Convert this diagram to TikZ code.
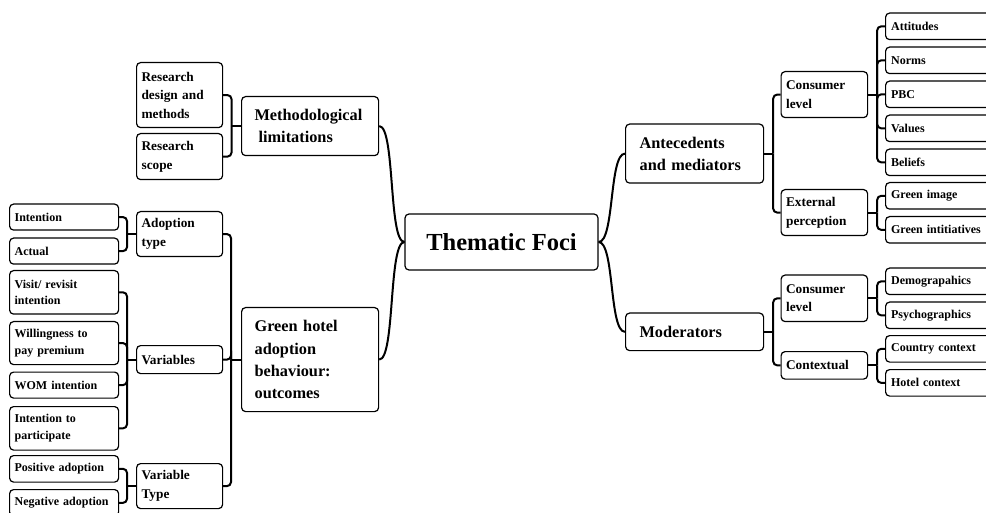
\documentclass[tikz,border=0pt]{standalone}
\usepackage{fontspec}
\setmainfont{Liberation Serif}
\usetikzlibrary{calc}
\tikzset{
  box/.style={draw, rounded corners=4pt, line width=1.2pt, inner ysep=0pt, align=left},
  leaf/.style={box, font=\fontsize{12}{16.7}\selectfont\bfseries},
  mid/.style={box, font=\fontsize{13.3}{18.6}\selectfont\bfseries},
  topbox/.style={box, font=\fontsize{16.3}{22.2}\selectfont\bfseries},
  rootbox/.style={box, font=\fontsize{24.5}{30}\selectfont\bfseries, align=center},
  conn/.style={line width=2pt, rounded corners=4pt},
}
\newcommand\bx[8]{%
  \pgfmathsetmacro\bxtw{#5-2*#7}%
  \node[#2, anchor=north west, inner xsep=#7pt, text width=\bxtw pt, minimum height=#6pt] (#1) at (#3,#4) {#8};}
\begin{document}
\begin{tikzpicture}[x=1pt,y=-1pt]
\useasboundingbox (0,0) rectangle (986,513);
% root
\node[rootbox, minimum width=193pt, minimum height=56pt, inner sep=0pt] (tf) at (501.5,242) {Thematic Foci};
% left side
\bx{ml}{topbox}{241}{96}{137}{59}{13}{Methodological\\\hspace*{4pt}limitations}
\bx{gh}{topbox}{241}{307}{137}{104}{13}{Green hotel\\adoption\\behaviour:\\outcomes}
\bx{rdm}{mid}{136}{62}{86}{65}{5}{Research\\design and\\methods}
\bx{rs}{mid}{136}{133}{86}{46}{5}{Research\\scope}
\bx{at}{mid}{136}{211}{86}{45}{5}{Adoption\\type}
\bx{va}{mid}{136}{345}{86}{28}{5}{Variables}
\bx{vt}{mid}{136}{463}{86}{45}{5}{Variable\\Type}
\bx{la}{leaf}{9}{203.5}{109}{26}{5}{Intention}
\bx{lb}{leaf}{9}{237.5}{109}{26}{5}{Actual}
\bx{lc}{leaf}{9}{270}{109}{43.5}{5}{Visit/ revisit\\intention}
\bx{ld}{leaf}{9}{321}{109}{43}{5}{Willingness to\\pay premium}
\bx{le}{leaf}{9}{371.5}{109}{26}{5}{WOM intention}
\bx{lf}{leaf}{9}{406}{109}{43.5}{5}{Intention to\\participate}
\bx{lg}{leaf}{9}{455}{109}{26.5}{5}{Positive adoption}
\bx{lh}{leaf}{9}{489}{109}{26.5}{5}{Negative adoption}
% right side
\bx{am}{topbox}{625}{123.5}{138}{59}{14}{Antecedents\\and mediators}
\bx{mo}{topbox}{625}{312.5}{138}{37.5}{14}{Moderators}
\bx{cla}{mid}{780.5}{71}{86.5}{46}{5}{Consumer\\level}
\bx{ep}{mid}{780.5}{189}{86.5}{46}{5}{External\\perception}
\bx{clb}{mid}{780.5}{274.5}{86.5}{46.5}{5}{Consumer\\level}
\bx{cx}{mid}{780.5}{351}{86.5}{27.5}{5}{Contextual}
\bx{ra}{leaf}{885}{12.5}{110}{26.5}{5.5}{Attitudes}
\bx{rb}{leaf}{885}{46.5}{110}{26.5}{5.5}{Norms}
\bx{rc}{leaf}{885}{80.5}{110}{26.5}{5.5}{PBC}
\bx{rd}{leaf}{885}{114.5}{110}{26.5}{5.5}{Values}
\bx{re}{leaf}{885}{148.5}{110}{26.5}{5.5}{Beliefs}
\bx{rf}{leaf}{885}{182}{110}{26.5}{5.5}{Green image}
\bx{rg}{leaf}{885}{216}{110}{26.5}{5.5}{Green intitiatives}
\bx{rh}{leaf}{885}{267.5}{110}{26.5}{5.5}{Demograpahics}
\bx{ri}{leaf}{885}{301.5}{110}{26.5}{5.5}{Psychographics}
\bx{rj}{leaf}{885}{335}{110}{26.5}{5.5}{Country context}
\bx{rk}{leaf}{885}{369}{110}{26.5}{5.5}{Hotel context}
% junctions
\coordinate (jml) at ($(ml.west)+(-9.5,0)$);
\coordinate (jgh) at ($(gh.west)+(-10,0)$);
\coordinate (jat) at ($(at.west)+(-9,0)$);
\coordinate (jva) at ($(va.west)+(-9,0)$);
\coordinate (jvt) at ($(vt.west)+(-9,0)$);
\coordinate (jam) at ($(am.east)+(9,0)$);
\coordinate (jmo) at ($(mo.east)+(9,0)$);
\coordinate (jcla) at ($(cla.east)+(9,0)$);
\coordinate (jep) at ($(ep.east)+(9,0)$);
\coordinate (jclb) at ($(clb.east)+(9,0)$);
\coordinate (jcx) at ($(cx.east)+(9,0)$);
% curves from root
\draw[conn] (tf.west) .. controls +(-16,0) and +(16,0) .. (ml.east);
\draw[conn] (tf.west) .. controls +(-16,0) and +(16,0) .. (gh.east);
\draw[conn] (tf.east) .. controls +(16,0) and +(-16,0) .. (am.west);
\draw[conn] (tf.east) .. controls +(16,0) and +(-16,0) .. (mo.west);
% left brackets
\foreach \c in {rdm,rs} \draw[conn] (\c.east) -| (jml);
\draw[conn] (jml) -- (ml.west);
\foreach \c in {at,va,vt} \draw[conn] (\c.east) -| (jgh);
\draw[conn] (jgh) -- (gh.west);
\foreach \c in {la,lb} \draw[conn] (\c.east) -| (jat);
\draw[conn] (jat) -- (at.west);
\foreach \c in {lc,ld,le,lf} \draw[conn] (\c.east) -| (jva);
\draw[conn] (jva) -- (va.west);
\foreach \c in {lg,lh} \draw[conn] (\c.east) -| (jvt);
\draw[conn] (jvt) -- (vt.west);
% right brackets
\foreach \c in {cla,ep} \draw[conn] (\c.west) -| (jam);
\draw[conn] (am.east) -- (jam);
\foreach \c in {clb,cx} \draw[conn] (\c.west) -| (jmo);
\draw[conn] (mo.east) -- (jmo);
\foreach \c in {ra,rb,rc,rd,re} \draw[conn] (\c.west) -| (jcla);
\draw[conn] (cla.east) -- (jcla);
\foreach \c in {rf,rg} \draw[conn] (\c.west) -| (jep);
\draw[conn] (ep.east) -- (jep);
\foreach \c in {rh,ri} \draw[conn] (\c.west) -| (jclb);
\draw[conn] (clb.east) -- (jclb);
\foreach \c in {rj,rk} \draw[conn] (\c.west) -| (jcx);
\draw[conn] (cx.east) -- (jcx);
\end{tikzpicture}
\end{document}
